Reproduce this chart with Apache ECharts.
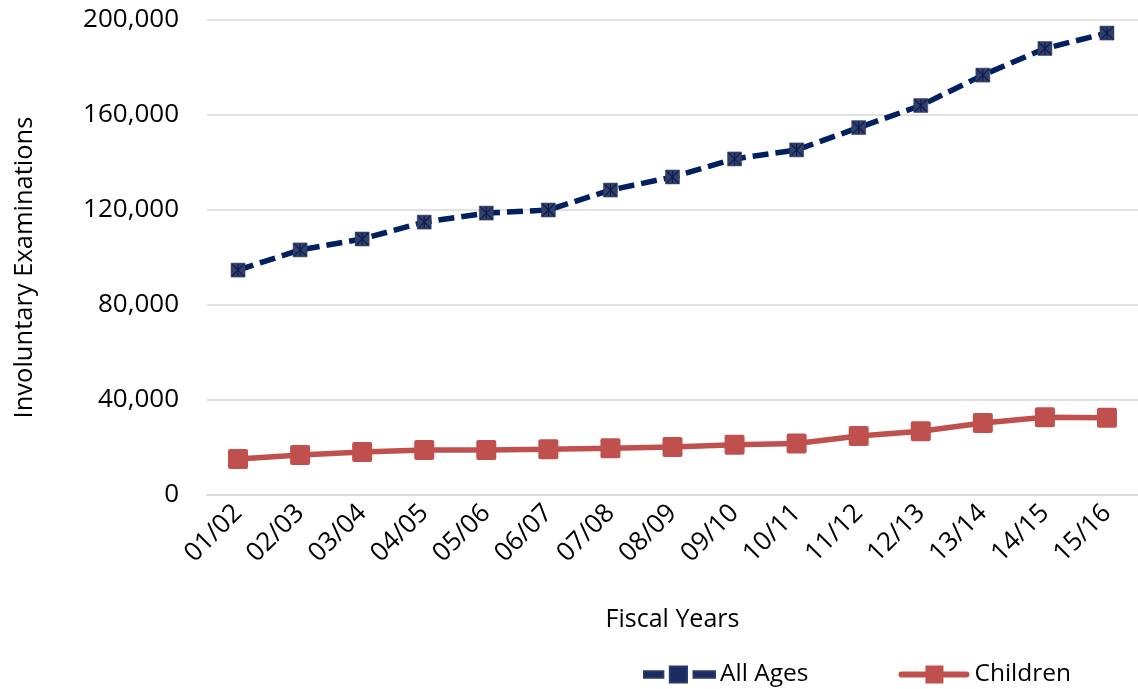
<!DOCTYPE html>
<html>
<head>
<meta charset="utf-8">
<script src="https://cdn.jsdelivr.net/npm/echarts@6/dist/echarts.min.js"></script>
<style>
html,body{margin:0;padding:0;background:#fff;}
#chart{width:1138px;height:689px;}
</style>
</head>
<body>
<div id="chart"></div>
<script>
var categories = ['01/02','02/03','03/04','04/05','05/06','06/07','07/08','08/09','09/10','10/11','11/12','12/13','13/14','14/15','15/16'];
var allAges = [94700, 103200, 107800, 114900, 118700, 120000, 128400, 133900, 141500, 145300, 154700, 164000, 176800, 188000, 194500];
var children = [15200, 16800, 18100, 18900, 18900, 19300, 19700, 20200, 21200, 21700, 24800, 26800, 30300, 32700, 32500];
var yTicks = {min: 0, max: 200000, interval: 40000};

var FONT = 'Open Sans';
var starPath = 'path://M0,0L10,10M10,0L0,10M5,0L5,10';
var roundSquare = 'path://M2,0H18Q20,0 20,2V18Q20,20 18,20H2Q0,20 0,18V2Q0,0 2,0Z';
var legendAllAges = 'path://M0,4.5L18,4.5L18,10.5L0,10.5ZM24,0L40,0L40,15L24,15ZM46,4.5L66,4.5L66,10.5L46,10.5Z';
var legendChildren = 'path://M3,6L68,6Q71,6 71,9Q71,12 68,12L3,12Q0,12 0,9Q0,6 3,6ZM27,0L45,0L45,18L27,18Z';

var chart = echarts.init(document.getElementById('chart'));
chart.setOption({
  animation: false,
  backgroundColor: '#fff',
  textStyle: {fontFamily: FONT, color: '#000'},
  grid: {left: 207, top: 20, width: 939, bottom: 194, containLabel: false},
  legend: {
    left: 638, top: 657,
    itemWidth: 71, itemHeight: 18, itemGap: 90,
    symbolKeepAspect: true,
    textStyle: {fontFamily: FONT, fontSize: 24.5, color: '#000'},
    data: [
      {name: 'All Ages', icon: legendAllAges, itemStyle: {color: '#1A2B60'}},
      {name: 'Children', icon: legendChildren, itemStyle: {color: '#C0504D'}}
    ]
  },
  xAxis: {
    type: 'category',
    data: categories,
    boundaryGap: true,
    name: 'Fiscal Years',
    nameLocation: 'middle',
    nameGap: 112,
    nameTextStyle: {fontFamily: FONT, fontSize: 25, color: '#000'},
    axisLine: {show: true, lineStyle: {color: '#D9D9D9', width: 1.5}},
    axisTick: {show: false},
    axisLabel: {interval: 0, rotate: 45, margin: 14, fontFamily: FONT, fontSize: 26, color: '#000'}
  },
  yAxis: {
    type: 'value',
    min: yTicks.min, max: yTicks.max, interval: yTicks.interval,
    name: 'Involuntary Examinations',
    nameLocation: 'middle',
    nameRotate: 90,
    nameGap: 169,
    nameTextStyle: {fontFamily: FONT, fontSize: 25.5, color: '#000', padding: [0, 20, 0, 0]},
    axisLine: {show: false},
    axisTick: {show: false},
    splitLine: {lineStyle: {color: '#D9D9D9', width: 1.5}},
    axisLabel: {
      margin: 28, fontFamily: FONT, fontSize: 26, color: '#000',
      formatter: function (v) { return echarts.format.addCommas(v); }
    }
  },
  series: [
    {
      name: 'All Ages',
      type: 'line',
      data: allAges,
      symbol: 'rect',
      symbolSize: 14,
      itemStyle: {color: '#333F66', borderColor: '#2B3A66', borderWidth: 0.5},
      lineStyle: {color: '#002060', width: 5.5, type: [16, 7]},
      z: 3
    },
    {
      name: 'All Ages',
      type: 'line',
      data: allAges,
      symbol: starPath,
      symbolSize: 12,
      lineStyle: {opacity: 0, width: 0},
      itemStyle: {color: 'rgba(0,0,0,0)', borderColor: '#0A1E55', borderWidth: 1.2},
      legendHoverLink: false,
      silent: true,
      z: 4
    },
    {
      name: 'Children',
      type: 'line',
      data: children,
      symbol: roundSquare,
      symbolSize: 20,
      itemStyle: {color: '#C0504D'},
      lineStyle: {color: '#C0504D', width: 5.5},
      z: 3
    }
  ]
});
</script>
</body>
</html>
